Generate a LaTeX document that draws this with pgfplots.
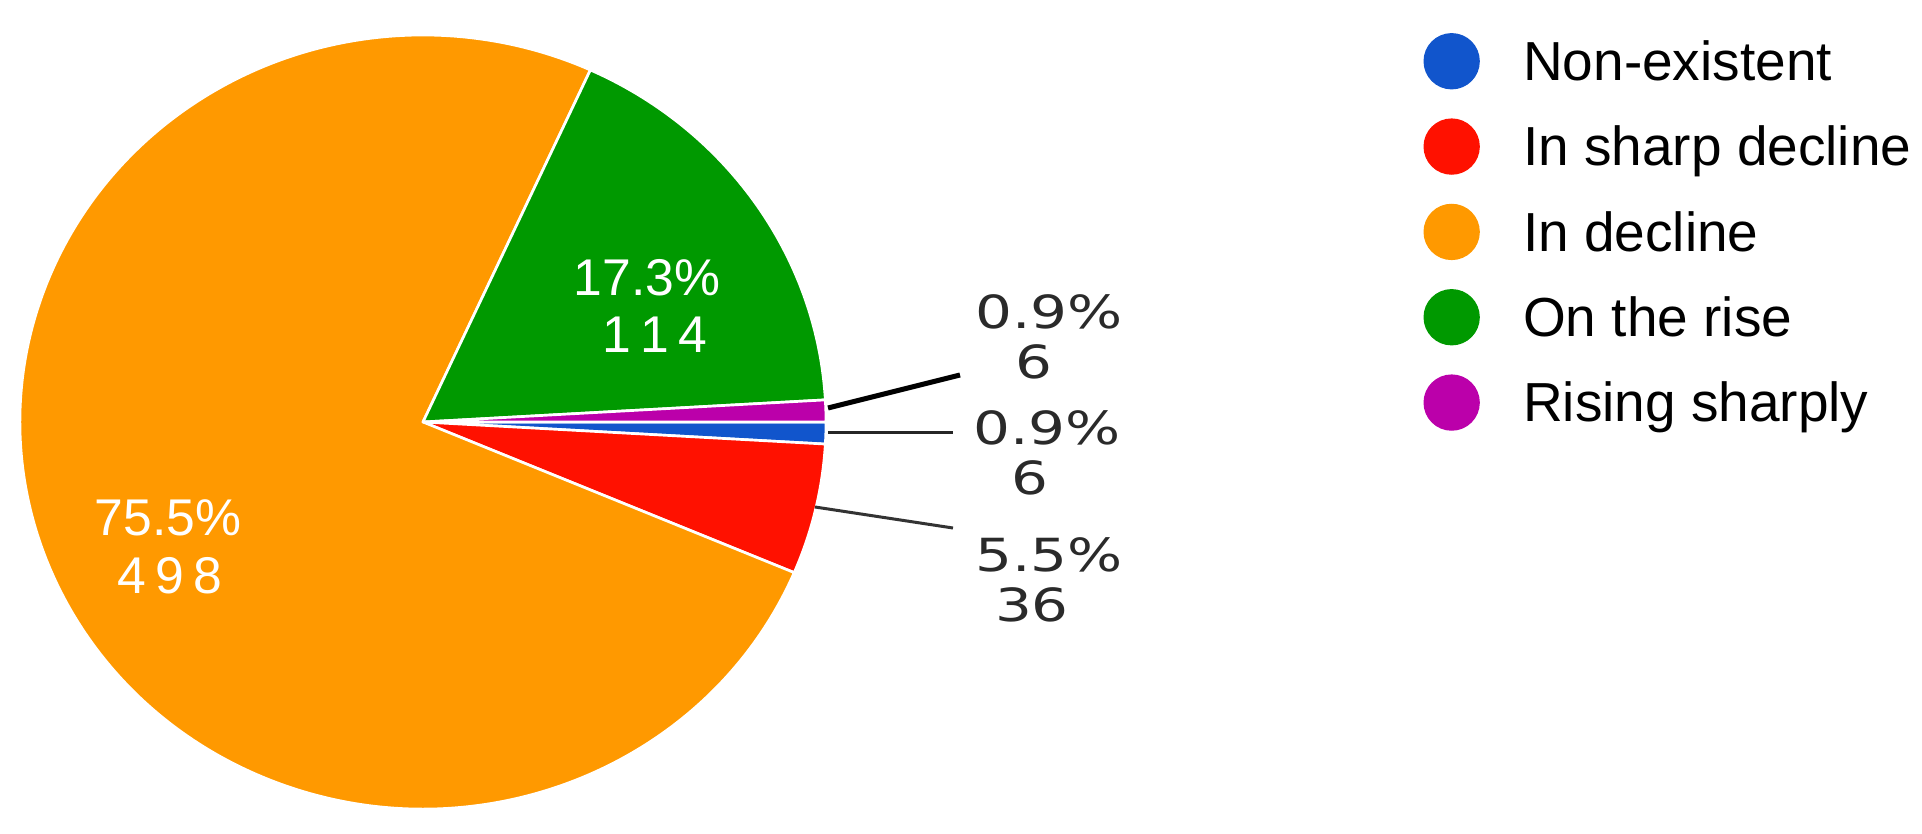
\documentclass[border=0pt]{standalone}
\usepackage{pgfplots}
\pgfplotsset{compat=1.18}
\usepackage{fontspec}
\setmainfont{Liberation Sans}
\newfontfamily\lblfont{DejaVu Sans}
\definecolor{cblue}{HTML}{1155CC}
\definecolor{cred}{HTML}{FF1100}
\definecolor{corange}{HTML}{FF9900}
\definecolor{cgreen}{HTML}{009900}
\definecolor{cpurple}{HTML}{BB00AA}
\definecolor{ctext}{HTML}{2A2A2A}
% slice: colour, counts before it, its count (total 660)
\newcommand\slice[3]{%
  \fill[#1, draw=white, line width=0.8pt, line join=round]
    (axis cs:423,411) -- ++({-#2/660*360}:120.9pt and 116.1pt)
    arc[start angle={-#2/660*360}, delta angle={-#3/660*360},
        x radius=120.9pt, y radius=116.1pt] -- cycle;}
\newcommand\outlbl[1]{\scalebox{1.27}[1]{#1}}
\begin{document}
\begin{tikzpicture}
\begin{axis}[
  x=0.3pt, y=0.3pt,
  xmin=0, xmax=1922, ymin=0, ymax=833,
  hide axis, clip=false, enlargelimits=false,
  legend cell align=left,
  legend image code/.code={\fill[#1] (0pt,0.4pt) circle (8.25pt);},
  legend style={at={(axis cs:1423.5,800)}, anchor=north west,
    draw=none, fill=none, inner sep=0pt, outer sep=0pt,
    font=\fontsize{16.5}{20}\selectfont,
    nodes={inner sep=0pt, text height=14.25pt, text depth=3.5pt},
    row sep=7.85pt,
    /tikz/every odd column/.style={column sep=13pt}},
]
\path (axis cs:0,0) rectangle (axis cs:1922,833);
\addlegendimage{cblue}
\addlegendentry{Non-existent}
\addlegendimage{cred}
\addlegendentry{In sharp decline}
\addlegendimage{corange}
\addlegendentry{In decline}
\addlegendimage{cgreen}
\addlegendentry{On the rise}
\addlegendimage{cpurple}
\addlegendentry{Rising sharply}
% counts: Non-existent 6, In sharp decline 36, In decline 498, On the rise 114, Rising sharply 6
\slice{cblue}{0}{6}
\slice{cred}{6}{36}
\slice{corange}{42}{498}
\slice{cgreen}{540}{114}
\slice{cpurple}{654}{6}
% inside labels
\node[white, font=\fontsize{15.5}{18}\selectfont] at (axis cs:168,315) {75.5\%};
\node[white, font=\fontsize{15.5}{18}\selectfont] at (axis cs:170,257) {4\hspace{2.8pt}9\hspace{2.8pt}8};
\node[white, font=\fontsize{15.5}{18}\selectfont] at (axis cs:647,555) {17.3\%};
\node[white, font=\fontsize{15.5}{18}\selectfont] at (axis cs:655,498) {1\hspace{2.8pt}1\hspace{2.8pt}4};
% leader lines
\draw[black, line width=1.5pt] (axis cs:828,425) -- (axis cs:960,458);
\draw[black!85, line width=0.9pt] (axis cs:828,400) -- (axis cs:953,400);
\draw[black!80, line width=0.9pt] (axis cs:815,326) -- (axis cs:953,305);
% outside labels
\begin{scope}[every node/.style={ctext, font=\lblfont\fontsize{13.7}{16}\selectfont}]
\node at (axis cs:1049,521) {\outlbl{0.9\%}};
\node at (axis cs:1034,471) {\outlbl{6}};
\node at (axis cs:1047,405) {\outlbl{0.9\%}};
\node at (axis cs:1030,355) {\outlbl{6}};
\node at (axis cs:1049,278) {\outlbl{5.5\%}};
\node at (axis cs:1032,228) {\outlbl{36}};
\end{scope}
\end{axis}
\pgfresetboundingbox
\path (current axis.south west) rectangle (current axis.north east);
\end{tikzpicture}
\end{document}
